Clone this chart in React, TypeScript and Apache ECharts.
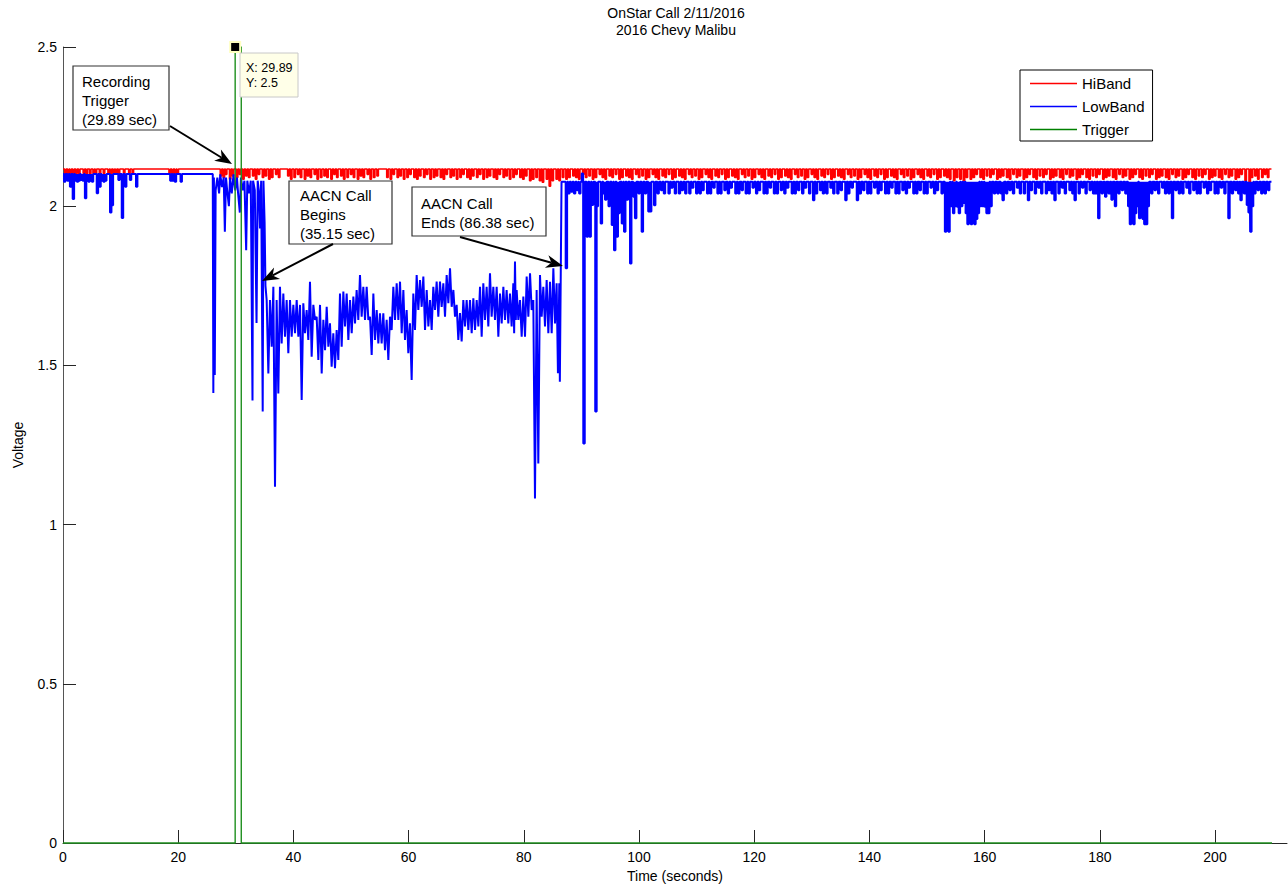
import React, { useEffect, useRef } from "react";
import * as echarts from "echarts";

const FONT = "'Liberation Sans', Arial, Helvetica, sans-serif";

const titleLines = ["OnStar Call 2/11/2016", "2016 Chevy Malibu"];
const xTicks = [0, 20, 40, 60, 80, 100, 120, 140, 160, 180, 200];
const seriesNames = ["HiBand", "LowBand", "Trigger"];

// HiBand: baseline with short downward dips [time, value]
const hiBase = 2.117;
const hiDips: [number, number][] = [
  [0.3, 2.102], [0.8, 2.102], [1.2, 2.103], [1.7, 2.102], [2.2, 2.103], [2.7, 2.102], [3.5, 2.103], [4.0, 2.102],
  [4.6, 2.102], [5.2, 2.103], [5.6, 2.102], [6.3, 2.102], [7.0, 2.103], [7.8, 2.102], [8.2, 2.102], [8.7, 2.103],
  [9.1, 2.102], [9.6, 2.102], [10.5, 2.103], [11.4, 2.102], [12.0, 2.102], [18.4, 2.103], [18.9, 2.102], [19.4, 2.102],
  [19.8, 2.103],
  [27.3, 2.095], [27.8, 2.09], [28.2, 2.1], [28.9, 2.085], [29.4, 2.095], [30.1, 2.09], [30.6, 2.1], [31.2, 2.085],
  [31.7, 2.095], [32.2, 2.09], [32.9, 2.095], [33.4, 2.085], [33.9, 2.1], [34.6, 2.09], [35.1, 2.095], [35.7, 2.085],
  [36.2, 2.09], [36.9, 2.1], [37.4, 2.09], [39.0, 2.095], [39.5, 2.085], [40.1, 2.09], [40.7, 2.1], [41.2, 2.09],
  [41.9, 2.085], [42.4, 2.095], [42.9, 2.09], [43.6, 2.1], [44.1, 2.085], [44.7, 2.09], [45.3, 2.095], [45.8, 2.09],
  [46.5, 2.085], [47.0, 2.1], [47.5, 2.09], [48.2, 2.095], [48.7, 2.085], [49.3, 2.09], [49.9, 2.1], [50.4, 2.09],
  [51.1, 2.085], [51.6, 2.095], [52.1, 2.09], [52.8, 2.1], [53.3, 2.085], [53.9, 2.09], [54.5, 2.095], [56.2, 2.09],
  [56.8, 2.085], [57.3, 2.1], [58.0, 2.09], [58.5, 2.095], [59.1, 2.085], [59.7, 2.09], [60.2, 2.1], [60.9, 2.09],
  [61.4, 2.085], [61.9, 2.095], [62.6, 2.09], [63.1, 2.1], [63.7, 2.085], [64.3, 2.09], [64.8, 2.095], [65.5, 2.09],
  [66.0, 2.085], [66.5, 2.1], [67.2, 2.09], [67.7, 2.095], [68.3, 2.085], [68.9, 2.09], [69.4, 2.1], [70.1, 2.09],
  [70.6, 2.085], [71.1, 2.095], [71.8, 2.09], [72.3, 2.1], [72.9, 2.085], [73.5, 2.09], [74.0, 2.095], [74.7, 2.09],
  [75.2, 2.085], [75.7, 2.1], [76.4, 2.09], [76.9, 2.095], [77.5, 2.085], [78.1, 2.09], [78.6, 2.1], [79.3, 2.09],
  [79.8, 2.085], [80.3, 2.095], [81.0, 2.08], [81.5, 2.085], [82.1, 2.09], [82.7, 2.08], [83.2, 2.075], [83.9, 2.085],
  [84.4, 2.063], [84.9, 2.08], [85.6, 2.085], [86.1, 2.08], [86.7, 2.09], [87.3, 2.085], [87.8, 2.09], [88.5, 2.095],
  [89.0, 2.09], [89.5, 2.085], [90.2, 2.1], [90.7, 2.09], [91.3, 2.095], [91.9, 2.085], [92.4, 2.09], [93.1, 2.1],
  [93.6, 2.09], [94.1, 2.085], [94.8, 2.095], [95.3, 2.09], [95.9, 2.1], [96.5, 2.085], [97.0, 2.09], [97.7, 2.095],
  [98.2, 2.09], [98.7, 2.085], [99.4, 2.1], [99.9, 2.09], [100.5, 2.095], [101.1, 2.085], [101.6, 2.09], [102.3, 2.1],
  [102.8, 2.09], [103.3, 2.085], [104.0, 2.095], [104.5, 2.09], [105.1, 2.1], [105.7, 2.085], [106.2, 2.09], [106.9, 2.095],
  [107.4, 2.09], [107.9, 2.085], [108.6, 2.1], [109.1, 2.09], [109.7, 2.095], [110.3, 2.085], [110.8, 2.09], [111.5, 2.1],
  [112.0, 2.09], [112.5, 2.085], [113.2, 2.095], [113.7, 2.09], [114.3, 2.1], [114.9, 2.085], [115.4, 2.09], [116.1, 2.095],
  [116.6, 2.09], [117.1, 2.085], [117.8, 2.1], [118.3, 2.09], [118.9, 2.095], [119.5, 2.085], [120.0, 2.09], [120.7, 2.1],
  [121.2, 2.09], [121.7, 2.085], [122.4, 2.095], [122.9, 2.09], [123.5, 2.1], [124.1, 2.085], [124.6, 2.09], [125.3, 2.095],
  [125.8, 2.09], [126.3, 2.085], [127.0, 2.1], [127.5, 2.09], [128.1, 2.095], [128.7, 2.085], [129.2, 2.09], [129.9, 2.1],
  [130.4, 2.09], [130.9, 2.085], [131.6, 2.095], [132.1, 2.09], [132.7, 2.1], [133.3, 2.085], [133.8, 2.09], [134.5, 2.095],
  [135.0, 2.09], [135.5, 2.085], [136.2, 2.1], [136.7, 2.09], [137.3, 2.095], [137.9, 2.085], [138.4, 2.09], [139.1, 2.1],
  [139.6, 2.09], [140.1, 2.085], [140.8, 2.095], [141.3, 2.09], [141.9, 2.1], [142.5, 2.085], [143.0, 2.09], [143.7, 2.095],
  [144.2, 2.09], [144.7, 2.085], [145.4, 2.1], [145.9, 2.09], [146.5, 2.095], [147.1, 2.085], [147.6, 2.09], [148.3, 2.1],
  [148.8, 2.09], [149.3, 2.085], [150.0, 2.095], [150.5, 2.09], [151.1, 2.1], [151.7, 2.085], [152.2, 2.09], [152.9, 2.095],
  [153.4, 2.09], [153.9, 2.085], [154.6, 2.08], [155.1, 2.09], [155.7, 2.085], [156.3, 2.08], [156.8, 2.09], [157.5, 2.085],
  [158.0, 2.09], [158.5, 2.1], [159.2, 2.09], [159.7, 2.085], [160.3, 2.095], [160.9, 2.09], [161.4, 2.1], [162.1, 2.085],
  [162.6, 2.09], [163.1, 2.095], [163.8, 2.09], [164.3, 2.085], [164.9, 2.1], [165.5, 2.09], [166.0, 2.095], [166.7, 2.085],
  [167.2, 2.09], [167.7, 2.1], [168.4, 2.09], [168.9, 2.085], [169.5, 2.095], [170.1, 2.09], [170.6, 2.1], [171.3, 2.085],
  [171.8, 2.09], [172.3, 2.095], [173.0, 2.09], [173.5, 2.085], [174.1, 2.1], [174.7, 2.09], [175.2, 2.095], [175.9, 2.085],
  [176.4, 2.09], [176.9, 2.1], [177.6, 2.09], [178.1, 2.085], [178.7, 2.095], [179.3, 2.09], [179.8, 2.1], [180.5, 2.085],
  [181.0, 2.09], [181.5, 2.095], [182.2, 2.09], [182.7, 2.085], [183.3, 2.1], [183.9, 2.09], [184.4, 2.095], [185.1, 2.085],
  [185.6, 2.09], [186.1, 2.1], [186.8, 2.09], [187.3, 2.085], [187.9, 2.095], [188.5, 2.09], [189.0, 2.1], [189.7, 2.085],
  [190.2, 2.09], [190.7, 2.095], [191.4, 2.09], [191.9, 2.085], [192.5, 2.1], [193.1, 2.09], [193.6, 2.095], [194.3, 2.085],
  [194.8, 2.09], [195.3, 2.1], [196.0, 2.09], [196.5, 2.085], [197.1, 2.095], [197.7, 2.09], [198.2, 2.1], [198.9, 2.085],
  [199.4, 2.09], [199.9, 2.095], [200.6, 2.09], [201.1, 2.085], [201.7, 2.1], [202.3, 2.09], [202.8, 2.095], [203.5, 2.085],
  [204.0, 2.09], [204.5, 2.1], [205.2, 2.08], [205.9, 2.062], [206.3, 2.09], [206.9, 2.095], [207.4, 2.085], [208.1, 2.09],
  [208.6, 2.1], [209.1, 2.09],
];
const hiEnd = 209.8;

// LowBand, part 1: idle level before the trigger, with dips [time, value]
const lowIdleBase = 2.101;
const lowIdleEnd = 26.0;
const lowIdleDips: [number, number][] = [
  [0.17, 2.077], [0.75, 2.08], [1.2, 2.061], [1.68, 2.023], [2.1, 2.08], [2.4, 2.077], [2.7, 2.08], [3.1, 2.082],
  [3.4, 2.08], [3.8, 2.025], [4.1, 2.08], [4.4, 2.077], [4.7, 2.08], [5.0, 2.077], [5.85, 2.041], [6.3, 2.061],
  [6.7, 2.08], [7.0, 2.077], [7.3, 2.08], [8.16, 1.98], [8.45, 2.003], [9.6, 2.082], [10.2, 1.963], [10.76, 2.061],
  [11.6, 2.082], [12.67, 2.061], [18.6, 2.08], [19.0, 2.08], [19.4, 2.077], [20.4, 2.077],
];

// LowBand, part 2: around the trigger (samples [time, value])
const lowTrigger: [number, number][] = [
  [26.1, 1.413], [26.2, 2.09], [26.35, 1.47], [26.5, 2.05], [26.8, 2.09], [27.1, 2.04], [27.3, 2.1], [27.6, 2.06], [27.9, 2.09],
  [28.1, 1.92], [28.3, 2.09], [28.5, 2.05], [28.8, 2.0], [29.0, 2.09], [29.3, 2.04], [29.6, 2.1], [29.9, 2.05],
  [30.2, 2.09], [30.4, 2.04], [30.7, 1.98], [30.9, 2.09], [31.2, 2.05], [31.5, 2.08], [31.8, 1.862], [32.0, 2.08],
  [32.3, 2.04], [32.6, 2.08], [32.9, 1.39], [33.0, 2.08], [33.3, 2.05], [33.6, 1.633], [33.8, 2.08], [34.0, 2.05],
  [34.2, 1.93], [34.4, 2.08], [34.67, 1.355], [34.8, 2.08], [35.0, 1.95], [35.15, 1.75],
];

// LowBand, part 3: during the AACN call, [time, upper, lower] of the noise
const lowCall: [number, number, number][] = [
  [35.36, 1.705, 1.475], [35.94, 1.705, 1.559], [36.52, 1.747, 1.119], [37.09, 1.705, 1.412], [37.67, 1.747, 1.569],
  [38.25, 1.726, 1.59], [38.83, 1.705, 1.538], [39.41, 1.705, 1.59], [39.99, 1.69, 1.601], [40.57, 1.705, 1.59],
  [41.15, 1.69, 1.391], [41.72, 1.695, 1.601], [42.3, 1.674, 1.58], [42.88, 1.763, 1.527], [43.46, 1.69, 1.643],
  [44.04, 1.653, 1.517], [44.62, 1.69, 1.475], [45.2, 1.643, 1.548], [45.78, 1.684, 1.559], [46.35, 1.632, 1.496],
  [46.93, 1.601, 1.491], [47.51, 1.611, 1.517], [48.09, 1.726, 1.559], [48.67, 1.732, 1.622], [49.25, 1.726, 1.58],
  [49.83, 1.705, 1.601], [50.41, 1.716, 1.632], [50.98, 1.737, 1.643], [51.56, 1.784, 1.653], [52.14, 1.747, 1.643],
  [52.72, 1.747, 1.643], [53.3, 1.653, 1.533], [53.88, 1.726, 1.58], [54.46, 1.674, 1.569], [55.03, 1.664, 1.569],
  [55.61, 1.664, 1.548], [56.19, 1.643, 1.517], [56.77, 1.653, 1.611], [57.35, 1.747, 1.643], [57.93, 1.758, 1.643],
  [58.51, 1.763, 1.601], [59.09, 1.737, 1.58], [59.66, 1.674, 1.538], [60.24, 1.632, 1.454], [60.82, 1.726, 1.611],
  [61.4, 1.784, 1.674], [61.98, 1.768, 1.684], [62.56, 1.779, 1.611], [63.14, 1.737, 1.622], [63.72, 1.705, 1.611],
  [64.29, 1.747, 1.674], [64.87, 1.763, 1.653], [65.45, 1.763, 1.684], [66.03, 1.758, 1.653], [66.61, 1.784, 1.695],
  [67.19, 1.805, 1.684], [67.77, 1.737, 1.653], [68.34, 1.69, 1.58], [68.92, 1.664, 1.575], [69.5, 1.705, 1.622],
  [70.08, 1.705, 1.611], [70.66, 1.705, 1.601], [71.24, 1.711, 1.611], [71.82, 1.705, 1.622], [72.4, 1.747, 1.59],
  [72.97, 1.758, 1.643], [73.55, 1.747, 1.622], [74.13, 1.789, 1.653], [74.71, 1.747, 1.643], [75.29, 1.747, 1.59],
  [75.87, 1.726, 1.632], [76.45, 1.747, 1.643], [77.02, 1.737, 1.632], [77.6, 1.726, 1.622], [78.18, 1.758, 1.601],
  [78.47, 1.826, 1.643], [78.76, 1.737, 1.643], [79.34, 1.705, 1.59], [79.92, 1.716, 1.59], [80.5, 1.779, 1.653],
  [81.08, 1.789, 1.674], [81.65, 1.705, 1.082], [82.23, 1.737, 1.192], [82.81, 1.784, 1.653], [83.39, 1.747, 1.622],
  [83.97, 1.768, 1.601], [84.55, 1.763, 1.601], [85.13, 1.805, 1.632], [85.7, 1.758, 1.475], [86.16, 1.758, 1.449],
];

// LowBand, part 4: after the call, level with dips [time, value]
const lowAfterStart = 86.55;
const lowAfterBase = 2.077;
const lowAfterDips: [number, number][] = [
  [87.27, 1.805], [87.7, 2.04], [88.2, 2.045], [88.7, 2.04], [89.2, 2.05], [89.6, 2.04], [90.05, 2.103], [90.33, 1.255],
  [90.9, 1.904], [91.4, 1.904], [91.8, 2.004], [92.4, 1.355], [92.65, 2.0], [93.35, 1.946], [93.8, 2.04], [94.1, 2.02],
  [94.7, 2.0], [95.26, 1.941], [95.66, 1.862], [96.1, 1.904], [96.4, 1.978], [97.0, 1.946], [97.4, 1.92], [97.86, 2.02],
  [98.44, 1.82], [99.0, 2.03], [99.3, 1.962], [99.9, 2.04], [100.46, 1.92], [101.0, 2.04], [101.6, 1.983], [101.9, 1.983],
  [102.6, 2.003], [103.2, 2.04], [103.8, 2.05], [104.3, 2.04], [105.1, 2.04], [105.6, 2.058], [106.2, 2.04], [106.9, 2.04],
  [107.4, 2.05], [108.0, 2.04], [108.7, 2.04], [109.2, 2.058], [109.9, 2.04], [110.5, 2.04], [111.0, 2.05], [111.8, 2.04],
  [112.3, 2.04], [112.9, 2.058], [113.6, 2.04], [114.1, 2.04], [114.8, 2.05], [115.4, 2.04], [115.9, 2.058], [116.7, 2.04],
  [117.2, 2.04], [117.8, 2.05], [118.5, 2.04], [119.0, 2.04], [119.7, 2.058], [120.3, 2.04], [120.8, 2.05], [121.6, 2.04],
  [122.1, 2.04], [122.7, 2.058], [123.4, 2.04], [123.9, 2.04], [124.6, 2.05], [125.2, 2.04], [125.7, 2.058], [126.5, 2.04],
  [127.0, 2.04], [127.6, 2.05], [128.3, 2.04], [128.8, 2.058], [129.5, 2.04], [130.2, 2.019], [130.7, 2.04], [131.4, 2.05],
  [131.9, 2.04], [132.5, 2.04], [133.2, 2.058], [133.7, 2.04], [134.4, 2.04], [135.0, 2.05], [135.8, 2.019], [136.3, 2.04],
  [136.9, 2.058], [137.8, 2.019], [138.3, 2.04], [138.9, 2.05], [139.6, 2.04], [140.1, 2.04], [140.8, 2.058], [141.4, 2.04],
  [141.9, 2.05], [142.7, 2.04], [143.2, 2.04], [143.8, 2.058], [144.5, 2.04], [145.0, 2.04], [145.7, 2.05], [146.3, 2.04],
  [146.8, 2.058], [147.6, 2.04], [148.1, 2.04], [148.7, 2.05], [149.4, 2.04], [149.9, 2.04], [150.6, 2.058], [151.2, 2.04],
  [151.7, 2.05], [152.5, 2.04], [153.1, 1.92], [153.4, 2.0], [153.7, 1.92], [154.1, 2.0], [154.5, 1.978], [154.8, 2.0],
  [155.2, 1.998], [155.5, 1.978], [155.9, 2.0], [156.3, 2.01], [156.7, 1.978], [157.0, 1.943], [157.3, 1.96], [157.6, 1.943],
  [157.9, 1.96], [158.2, 1.943], [158.5, 1.96], [158.8, 1.978], [159.2, 2.0], [159.6, 2.0], [160.0, 1.998], [160.3, 1.978],
  [160.6, 1.978], [161.0, 2.0], [161.6, 2.04], [162.2, 2.04], [162.8, 2.04], [163.1, 2.019], [163.7, 2.04], [164.3, 2.05],
  [164.9, 2.04], [165.6, 2.058], [166.1, 2.04], [166.8, 2.04], [167.5, 2.019], [168.0, 2.05], [168.7, 2.04], [169.3, 2.058],
  [169.8, 2.04], [170.6, 2.04], [171.1, 2.05], [171.6, 2.04], [172.1, 2.019], [172.8, 2.04], [173.4, 2.058], [173.9, 2.04],
  [174.7, 2.05], [175.2, 2.04], [175.6, 2.019], [176.3, 2.04], [176.9, 2.058], [177.5, 2.04], [178.2, 2.05], [178.8, 2.04],
  [179.2, 2.04], [179.7, 1.962], [180.3, 2.04], [180.9, 2.03], [181.5, 2.04], [182.0, 2.02], [182.6, 2.0], [183.2, 2.04],
  [183.8, 2.05], [184.4, 2.04], [184.9, 2.0], [185.2, 1.943], [185.5, 1.96], [185.8, 1.943], [186.1, 1.978], [186.4, 2.0],
  [186.8, 1.962], [187.1, 1.98], [187.4, 1.96], [187.7, 1.943], [188.0, 1.943], [188.3, 2.0], [188.9, 2.04], [189.5, 2.05],
  [190.1, 2.04], [190.8, 2.058], [191.3, 2.04], [191.9, 2.04], [192.5, 1.962], [193.1, 2.05], [193.7, 2.04], [194.3, 2.04],
  [195.0, 2.058], [195.5, 2.04], [196.2, 2.05], [196.8, 2.04], [197.3, 2.04], [198.0, 2.058], [198.6, 2.04], [199.1, 2.05],
  [199.9, 2.04], [200.4, 2.04], [201.0, 2.058], [201.6, 2.04], [202.3, 1.962], [202.9, 2.04], [203.5, 2.05], [204.0, 2.04],
  [204.4, 2.019], [205.0, 2.04], [205.5, 2.004], [205.8, 1.98], [206.1, 1.92], [206.4, 2.0], [206.8, 2.04], [207.4, 2.05],
  [208.0, 2.04], [208.6, 2.04], [209.2, 2.05],
];
const lowEnd = 209.8;

// Trigger
const triggerData: [number, number][] = [
  [0, 0], [29.89, 0], [29.89, 2.5], [30.95, 2.5], [30.95, 0], [209.9, 0],
];
const dataTip: [number, number] = [29.89, 2.5];

// annotations
const notes = [
  { text: "Recording\nTrigger\n(29.89 sec)" },
  { text: "AACN Call\nBegins\n(35.15 sec)" },
  { text: "AACN Call\nEnds (86.38 sec)" },
];

const NOTCH = 0.25;
function notched(base: number, dips: [number, number][], t0: number, t1: number) {
  const pts: number[][] = [[t0, base]];
  for (const [t, v] of dips) {
    pts.push([t, base], [t, v], [t + NOTCH, v], [t + NOTCH, base]);
  }
  pts.push([t1, base]);
  return pts;
}

function buildLow() {
  const pts: number[][] = notched(lowIdleBase, lowIdleDips, 0, lowIdleEnd);
  for (const p of lowTrigger) pts.push(p);
  for (let i = 0; i < lowCall.length; i++) {
    const [t, top, bot] = lowCall[i];
    const next = i + 1 < lowCall.length ? lowCall[i + 1][0] : t + 0.2;
    pts.push([t, top], [(t + next) / 2, bot]);
  }
  for (const p of notched(lowAfterBase, lowAfterDips, lowAfterStart, lowEnd)) pts.push(p);
  return pts;
}

function arrow(x1: number, y1: number, x2: number, y2: number) {
  const dx = x2 - x1, dy = y2 - y1;
  const L = Math.hypot(dx, dy);
  const ux = dx / L, uy = dy / L, px = -uy, py = ux;
  const hl = 17, hw = 6.5, back = 12;
  const bx = x2 - ux * hl, by = y2 - uy * hl;
  const ix = x2 - ux * back, iy = y2 - uy * back;
  return [
    { type: "line", z: 100, shape: { x1, y1, x2: ix, y2: iy }, style: { stroke: "#000", lineWidth: 2 } },
    {
      type: "polygon", z: 100,
      shape: { points: [[x2, y2], [bx + px * hw, by + py * hw], [ix, iy], [bx - px * hw, by - py * hw]] },
      style: { fill: "#000" },
    },
  ];
}

function textEl(text: string, x: number, y: number, size: number, lh: number, align = "left", vAlign = "top") {
  return {
    type: "text", z: 101, x, y,
    style: {
      text, fontSize: size, fontFamily: FONT, fill: "#000", lineHeight: lh,
      align, textAlign: align, verticalAlign: vAlign, textVerticalAlign: vAlign,
    },
  };
}

function box(x: number, y: number, w: number, h: number) {
  return {
    type: "rect", z: 99, shape: { x, y, width: w, height: h },
    style: { fill: "#fff", stroke: "#333", lineWidth: 1.2 },
  };
}

export default function App() {
  const ref = useRef<HTMLDivElement>(null);
  useEffect(() => {
    if (!ref.current) return;
    const chart = echarts.init(ref.current, undefined, { renderer: "svg" });
    const hiData = notched(hiBase, hiDips, 0, hiEnd);
    const lowData = buildLow();
    const axisLabelStyle = { color: "#000", fontSize: 14, fontFamily: FONT };
    chart.setOption({
      animation: false,
      backgroundColor: "#fff",
      textStyle: { fontFamily: FONT },
      grid: { left: 63, top: 47, right: 1, bottom: 43, containLabel: false, outerBoundsMode: "none" },
      legend: {
        data: seriesNames,
        orient: "vertical",
        left: 1020,
        top: 70,
        icon: "rect",
        itemWidth: 47,
        itemHeight: 1.3,
        itemGap: 8,
        padding: [6, 8, 4, 10],
        borderColor: "#000",
        borderWidth: 1,
        backgroundColor: "#fff",
        textStyle: { fontSize: 15, color: "#000", fontFamily: FONT, lineHeight: 15 },
        selectedMode: false,
      },
      xAxis: {
        type: "value",
        min: 0,
        max: 212.5,
        name: "Time (seconds)",
        nameLocation: "middle",
        nameGap: 26,
        nameTextStyle: { fontSize: 14, color: "#000", fontFamily: FONT },
        axisLine: { show: true, onZero: false, lineStyle: { color: "#262626", width: 1 } },
        axisTick: { show: true, inside: true, length: 13, customValues: xTicks, lineStyle: { color: "#262626" } },
        axisLabel: { ...axisLabelStyle, margin: 7, customValues: xTicks },
        splitLine: { show: false },
      },
      yAxis: {
        type: "value",
        min: 0,
        max: 2.5,
        interval: 0.5,
        name: "Voltage",
        nameLocation: "middle",
        nameGap: 38,
        nameRotate: 90,
        nameTextStyle: { fontSize: 14, color: "#000", fontFamily: FONT },
        axisLine: { show: true, lineStyle: { color: "#555", width: 1 } },
        axisTick: { show: true, inside: true, length: 13, lineStyle: { color: "#262626" } },
        axisLabel: { ...axisLabelStyle, margin: 6 },
        splitLine: { show: false },
      },
      series: [
        {
          name: seriesNames[0], type: "line", data: hiData, symbol: "none", showSymbol: false,
          lineStyle: { color: "#ff0000", width: 1.6 }, itemStyle: { color: "#ff0000" }, clip: false, z: 2,
        },
        {
          name: seriesNames[1], type: "line", data: lowData, symbol: "none", showSymbol: false,
          lineStyle: { color: "#0000ff", width: 2 }, itemStyle: { color: "#0000ff" }, clip: false, z: 3,
        },
        {
          name: seriesNames[2], type: "line", data: triggerData, symbol: "none", showSymbol: false,
          lineStyle: { color: "#1f8f1f", width: 1.4 }, itemStyle: { color: "#008000" }, clip: false, z: 4,
          markPoint: {
            symbol: "rect", symbolSize: 10, silent: true,
            itemStyle: { color: "#000", borderColor: "#ffffc0", borderWidth: 2 },
            label: { show: false },
            data: [{ coord: dataTip }],
          },
        },
      ],
      graphic: [
        textEl(titleLines[0], 676, 13, 14, 17, "center", "middle"),
        textEl(titleLines[1], 676, 30, 14, 17, "center", "middle"),
        box(73, 66, 96, 64),
        textEl(notes[0].text, 82, 71.5, 15, 19),
        box(289, 181, 103, 63),
        textEl(notes[1].text, 300, 185.5, 15, 19),
        box(412, 187, 134, 49),
        textEl(notes[2].text, 421, 193.8, 15, 19),
        ...arrow(170, 126, 232, 164),
        ...arrow(333, 244, 262, 281),
        ...arrow(460, 237, 563, 266),
        {
          type: "rect", z: 99, shape: { x: 240, y: 53, width: 58, height: 44 },
          style: { fill: "#ffffe8", stroke: "#c8c8c8", lineWidth: 1 },
        },
        textEl(`X: ${dataTip[0]}\nY: ${dataTip[1]}`, 246, 60, 12.5, 15.6),
      ],
    });
    return () => chart.dispose();
  }, []);
  return (
    <div
      ref={ref}
      style={{ position: "absolute", left: 0, top: 0, width: 1288, height: 886, background: "#fff" }}
    />
  );
}
